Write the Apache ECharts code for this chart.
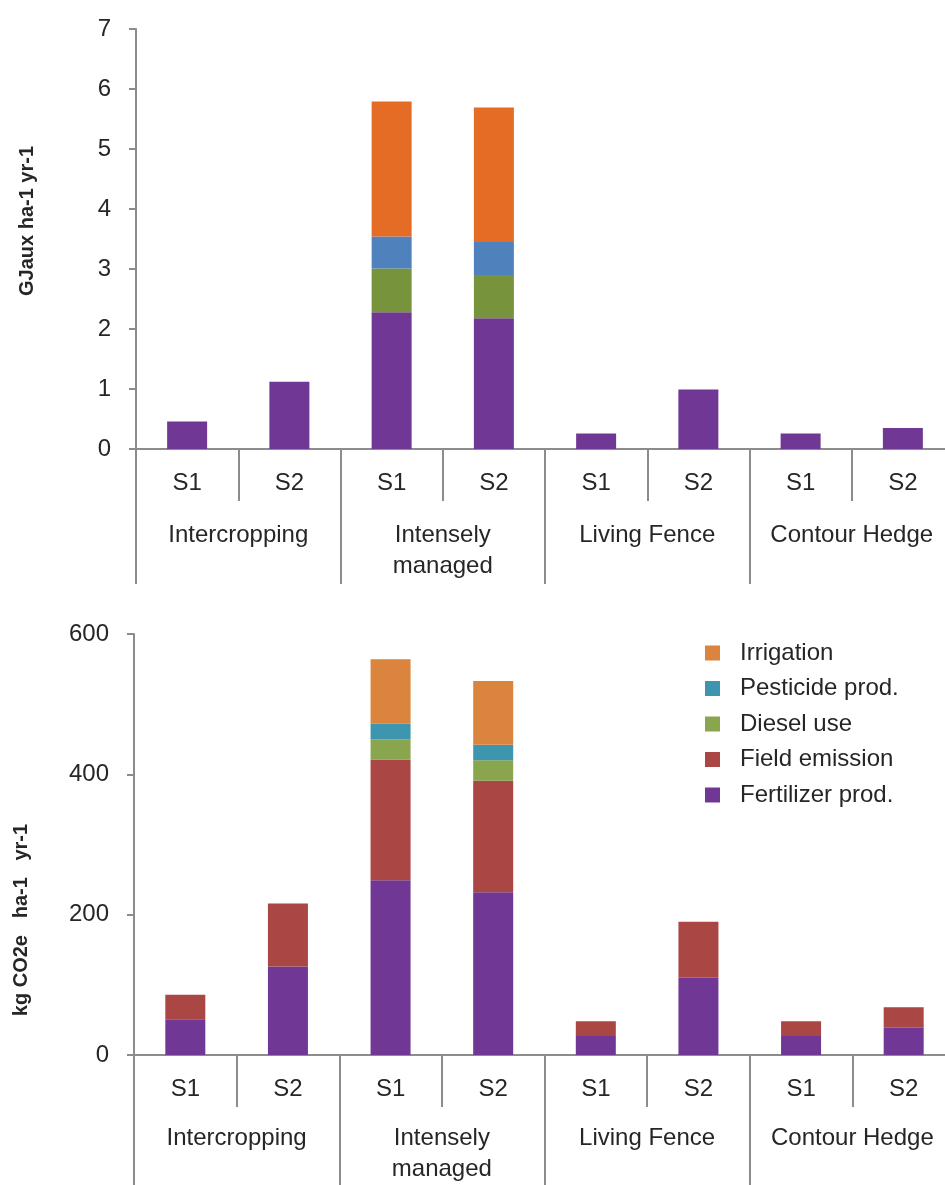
<!DOCTYPE html>
<html>
<head>
<meta charset="utf-8">
<script src="https://cdn.jsdelivr.net/npm/echarts@6/dist/echarts.min.js"></script>
<style>
  body { margin: 0; background: #fff; overflow: hidden; }
  /* the plot runs past the right edge of the picture, so the charts are wider than the window */
  #top, #bottom { width: 970px; }
  #top { height: 600px; }
  #bottom { height: 585px; }
</style>
</head>
<body>
<div id="top"></div>
<div id="bottom"></div>

<script type="text/javascript">
    // categories (two-level axis)
    var scenarios = ['S1', 'S2', 'S1', 'S2', 'S1', 'S2', 'S1', 'S2'];
    var systems = ['Intercropping', 'Intensely\nmanaged', 'Living Fence', 'Contour Hedge'];

    // energy input, GJaux ha-1 yr-1
    var gjFertilizer = [0.46, 1.12, 2.28, 2.18, 0.26, 0.99, 0.26, 0.35];
    var gjDiesel     = [0, 0, 0.73, 0.72, 0, 0, 0, 0];
    var gjPesticide  = [0, 0, 0.53, 0.55, 0, 0, 0, 0];
    var gjIrrigation = [0, 0, 2.25, 2.24, 0, 0, 0, 0];

    // emissions, kg CO2e ha-1 yr-1
    var coFertilizer = [51, 126, 249, 232, 27, 110, 27, 39];
    var coField      = [35, 90, 172, 159, 21, 80, 21, 29];
    var coDiesel     = [0, 0, 29, 29, 0, 0, 0, 0];
    var coPesticide  = [0, 0, 22, 22, 0, 0, 0, 0];
    var coIrrigation = [0, 0, 92, 91, 0, 0, 0, 0];

    var font = 'Liberation Sans';
    var textColor = '#262626';
    var lineColor = '#8c8c8c';

    function xAxes(groupMargin, groupTick) {
        return [{
            type: 'category',
            data: scenarios,
            axisLine: { show: true, lineStyle: { color: lineColor, width: 2 } },
            axisTick: { show: true, interval: 0, length: 52, lineStyle: { color: lineColor, width: 2 } },
            axisLabel: { interval: 0, margin: 22, fontSize: 24, fontFamily: font, color: textColor }
        }, {
            type: 'category',
            position: 'bottom',
            data: systems,
            axisLine: { show: false },
            axisTick: { show: true, interval: 0, length: groupTick, lineStyle: { color: lineColor, width: 2 } },
            axisLabel: { interval: 0, margin: groupMargin, fontSize: 24, lineHeight: 31,
                         fontFamily: font, color: textColor }
        }];
    }

    function yAxis(max, interval) {
        return {
            type: 'value',
            min: 0, max: max, interval: interval,
            splitLine: { show: false },
            axisLine: { show: true, lineStyle: { color: lineColor, width: 2 } },
            axisTick: { show: true, length: 7, lineStyle: { color: lineColor, width: 2 } },
            axisLabel: { margin: 25, fontSize: 24, fontFamily: font, color: textColor }
        };
    }

    function bar(name, data, color) {
        return { name: name, type: 'bar', stack: 'total', barWidth: 40, data: data,
                 itemStyle: { color: color } };
    }

    function axisName(text, x, y) {
        return { type: 'text', x: x, y: y, rotation: Math.PI / 2,
                 style: { text: text, fontSize: 20, fontWeight: 'bold', fontFamily: font,
                          fill: textColor, align: 'center', verticalAlign: 'middle' } };
    }

    // 上图：能量投入
    var topChart = echarts.init(document.getElementById('top'));
    topChart.setOption({
        animation: false,
        grid: { left: 136, top: 29, width: 818, height: 420 },
        xAxis: xAxes(71, 135),
        yAxis: yAxis(7, 1),
        graphic: [axisName('GJaux ha-1 yr-1', 27, 221)],
        series: [
            bar('Fertilizer prod.', gjFertilizer, '#703894'),
            bar('Diesel use', gjDiesel, '#77933C'),
            bar('Pesticide prod.', gjPesticide, '#4F81BD'),
            bar('Irrigation', gjIrrigation, '#E46C25')
        ]
    });

    // 下图：排放
    var bottomChart = echarts.init(document.getElementById('bottom'));
    bottomChart.setOption({
        animation: false,
        grid: { left: 134, top: 34, width: 821, height: 423 },
        xAxis: xAxes(68, 140),
        yAxis: yAxis(600, 200),
        graphic: [axisName('kg CO2e   ha-1   yr-1', 21, 320)],
        legend: {
            left: 700, top: 36, orient: 'vertical',
            icon: 'rect', itemWidth: 15, itemHeight: 15, itemGap: 11.5,
            data: ['Irrigation', 'Pesticide prod.', 'Diesel use', 'Field emission', 'Fertilizer prod.'],
            textStyle: { fontSize: 24, lineHeight: 22, fontFamily: font, color: textColor,
                         padding: [0, 0, 0, 15] }
        },
        series: [
            bar('Fertilizer prod.', coFertilizer, '#703894'),
            bar('Field emission', coField, '#AA4643'),
            bar('Diesel use', coDiesel, '#89A54E'),
            bar('Pesticide prod.', coPesticide, '#3D96AE'),
            bar('Irrigation', coIrrigation, '#DB843D')
        ]
    });
</script>
</body>
</html>
